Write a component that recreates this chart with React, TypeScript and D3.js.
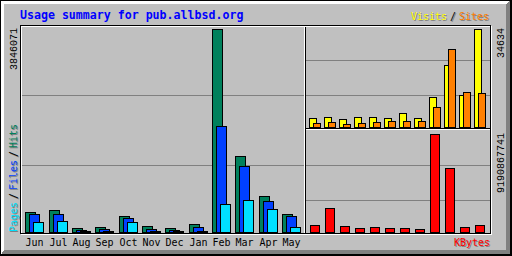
import React from "react";
import * as d3 from "d3";

const months = ["Jun", "Jul", "Aug", "Sep", "Oct", "Nov", "Dec", "Jan", "Feb", "Mar", "Apr", "May"];
const hits = [373000, 411000, 70000, 89000, 297000, 108000, 70000, 146000, 3846071, 1434000, 676000, 335000];
const files = [335000, 335000, 32000, 51000, 260000, 51000, 32000, 89000, 2008000, 1245000, 582000, 297000];
const pages = [184000, 203000, 13000, 19000, 184000, 19000, 13000, 19000, 525000, 601000, 430000, 89000];
const visits = [3075, 3428, 2721, 3428, 3428, 3075, 4842, 3075, 10496, 21911, 11203, 34634];
const sites = [1308, 1661, 954, 1308, 1661, 2014, 2014, 2014, 6962, 27459, 12263, 11910];
const kbytes = [628e6, 2223e6, 535e6, 347e6, 441e6, 347e6, 347e6, 253e6, 9190867741, 5974e6, 441e6, 628e6];

const title = "Usage summary for pub.allbsd.org";

const GREY = "#C0C0C0";
const DKGREY = "#808080";
const HIT = "#00805C";
const FILE = "#0040FF";
const PAGE = "#00E0FF";
const VISIT = "#FFFF00";
const SITE = "#FF8000";
const KBYTE = "#FF0000";

const MONO = "'DejaVu Sans Mono', monospace";
const NUM = "'Liberation Mono', 'DejaVu Sans Mono', monospace";

export default function App() {
  const maxHits = d3.max(hits) as number;
  const maxVisits = d3.max([...visits, ...sites]) as number;
  const maxK = d3.max(kbytes) as number;

  const xL = d3.scaleBand<string>().domain(months).range([25, 25 + 12 * (70 / 3)]);
  const xR = d3.scaleBand<string>().domain(months).range([309, 309 + 12 * 15]);
  const yL = d3.scaleLinear().domain([0, maxHits]).range([232, 29]);
  const yV = d3.scaleLinear().domain([0, maxVisits]).range([127, 29]);
  const yK = d3.scaleLinear().domain([0, maxK]).range([232, 134]);

  const lx = (m: string) => Math.ceil((xL(m) as number) - 1e-6);
  const rx = (m: string) => Math.round(xR(m) as number);

  const bar = (key: string, x1: number, w: number, y1: number, base: number, fill: string) => (
    <rect key={key} x={x1 + 0.5} y={y1 + 0.5} width={w} height={Math.max(0, base - y1)} fill={fill} stroke="#000" strokeWidth={1} />
  );

  const shadowText = (key: string, x: number, y: number, txt: string, fill: string, rotate = false, anchor = "start") => {
    const tr = (dx: number, dy: number) => (rotate ? `translate(${x + dx},${y + dy}) rotate(-90)` : `translate(${x + dx},${y + dy})`);
    return (
      <g key={key}>
        <text transform={tr(1, 1)} fill={DKGREY} fontFamily={MONO} fontSize={10} textAnchor={anchor}>{txt}</text>
        <text transform={tr(0, 0)} fill={fill} fontFamily={MONO} fontSize={10} textAnchor={anchor}>{txt}</text>
      </g>
    );
  };

  return (
    <svg width={512} height={256} style={{ position: "fixed", left: 0, top: 0, display: "block" }} shapeRendering="crispEdges">
      {/* background and bevel */}
      <rect x={0} y={0} width={512} height={256} fill={GREY} />
      <rect x={0} y={0} width={512} height={4} fill="#FFFFFF" />
      <rect x={0} y={0} width={4} height={256} fill="#FFFFFF" />
      <polygon points="4,250 506,250 506,4 510,0 512,0 512,256 0,256" fill={DKGREY} />
      <rect x={0} y={0} width={512} height={1} fill="#000" />
      <rect x={0} y={0} width={1} height={256} fill="#000" />
      <rect x={0} y={254} width={512} height={2} fill="#000" />
      <rect x={510} y={0} width={2} height={256} fill="#000" />

      {/* title */}
      <text x={20} y={19} fill="#0000FF" fontFamily={MONO} fontWeight="bold" fontSize={11.6}>{title}</text>

      {/* grid lines */}
      {[95, 165].map((y) => (
        <line key={"gl" + y} x1={21} x2={304} y1={y + 0.5} y2={y + 0.5} stroke={DKGREY} />
      ))}
      {[60, 95, 165, 200].map((y) => (
        <line key={"gr" + y} x1={306} x2={490} y1={y + 0.5} y2={y + 0.5} stroke={DKGREY} />
      ))}

      {/* section lines */}
      <line x1={304.5} x2={304.5} y1={26} y2={233} stroke="#FFFFFF" />
      <line x1={305.5} x2={305.5} y1={26} y2={233} stroke="#000" />
      <line x1={306} x2={490} y1={128.5} y2={128.5} stroke="#000" />
      <line x1={306} x2={490} y1={129.5} y2={129.5} stroke="#FFFFFF" />

      {/* hits / files / pages */}
      {months.map((m, i) => {
        const x = lx(m);
        return (
          <g key={"l" + m}>
            {bar("h", x, 10, Math.round(yL(hits[i])), 232, HIT)}
            {bar("f", x + 4, 10, Math.round(yL(files[i])), 232, FILE)}
            {bar("p", x + 8, 10, Math.round(yL(pages[i])), 232, PAGE)}
          </g>
        );
      })}

      {/* visits / sites */}
      {months.map((m, i) => {
        const x = rx(m);
        return (
          <g key={"v" + m}>
            {bar("v", x, 7, Math.round(yV(visits[i])), 127, VISIT)}
            {bar("s", x + 4, 7, Math.round(yV(sites[i])), 127, SITE)}
          </g>
        );
      })}

      {/* kbytes */}
      {months.map((m, i) => {
        const x = rx(m) + 1;
        return <g key={"k" + m}>{bar("k", x, 9, Math.round(yK(kbytes[i])), 232, KBYTE)}</g>;
      })}

      {/* inner frame */}
      <rect x={20.5} y={25.5} width={470} height={208} fill="none" stroke="#000" />
      <line x1={21} x2={492} y1={234.5} y2={234.5} stroke="#FFFFFF" />
      <line x1={491.5} x2={491.5} y1={26} y2={235} stroke="#FFFFFF" />
      <line x1={21} x2={490} y1={26.5} y2={26.5} stroke="#FFFFFF" />
      <line x1={21.5} x2={21.5} y1={26} y2={233} stroke="#FFFFFF" />

      {/* month labels */}
      {months.map((m) => (
        <text key={"t" + m} x={lx(m) + 0.5} y={246} fill="#000" fontFamily={MONO} fontSize={10}>{m}</text>
      ))}

      {/* max value labels */}
      <text transform="translate(16.5,28) rotate(-90)" textAnchor="end" fill="#000" fontFamily={NUM} fontSize={10}>{String(maxHits)}</text>
      <text transform="translate(503.5,28) rotate(-90)" textAnchor="end" fill="#000" fontFamily={NUM} fontSize={10}>{String(maxVisits)}</text>
      <text transform="translate(503.5,133) rotate(-90)" textAnchor="end" fill="#000" fontFamily={NUM} fontSize={10}>{String(maxK)}</text>

      {/* legends */}
      {shadowText("lp", 16.5, 232, "Pages", PAGE, true)}
      {shadowText("ls1", 16.5, 199, "/", "#000", true)}
      {shadowText("lf", 16.5, 190, "Files", FILE, true)}
      {shadowText("ls2", 16.5, 157, "/", "#000", true)}
      {shadowText("lh", 16.5, 148, "Hits", HIT, true)}

      {shadowText("vv", 411, 20, "Visits", VISIT)}
      {shadowText("vs", 450, 20, "/", "#000")}
      {shadowText("vs2", 459, 20, "Sites", SITE)}

      {shadowText("kb", 490, 246, "KBytes", KBYTE, false, "end")}
    </svg>
  );
}
